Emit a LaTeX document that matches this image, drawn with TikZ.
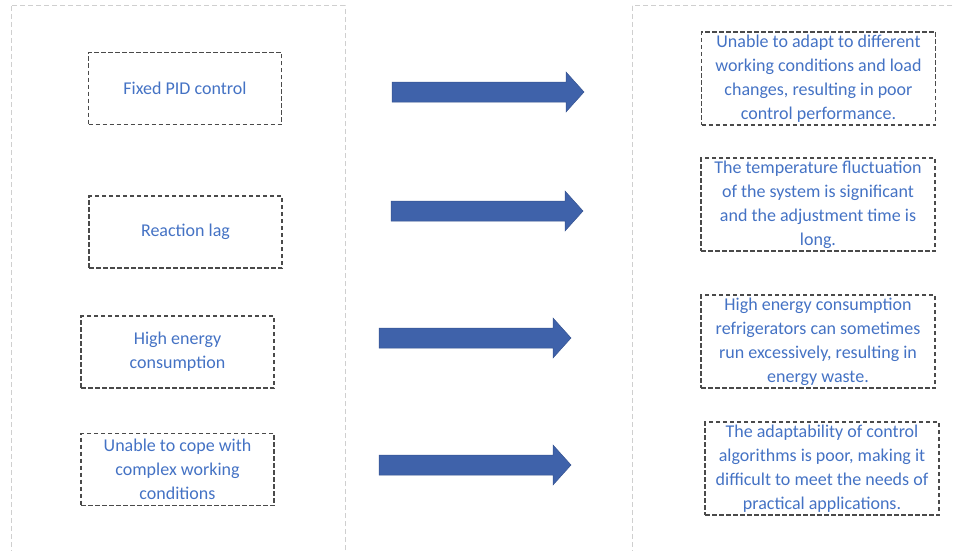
\documentclass[tikz,border=0pt]{standalone}
\usepackage{fontspec}
\setmainfont{Carlito}
\definecolor{textblue}{HTML}{4472C4}
\definecolor{arrowblue}{HTML}{3F62AA}
\definecolor{panelgray}{HTML}{CFCFCF}
\definecolor{boxgray}{HTML}{4A4A4A}
\begin{document}
\begin{tikzpicture}[x=1pt, y=-1pt,
	panel/.style={draw=panelgray, line width=1pt, dash pattern=on 5pt off 3pt},
	cause/.style={
		% The shape:
		rectangle,
		% The size:
		minimum width=193pt, minimum height=72pt, inner sep=0pt,
		% The border
		draw=boxgray, line width=1.1pt, dash pattern=on 4.5pt off 2.5pt,
		% The text
		text=textblue, align=center, font=\fontsize{18}{24}\selectfont},
	effect/.style={cause, minimum width=234pt, minimum height=93pt},
	fat/.style={fill=arrowblue, draw=arrowblue!85!black, line width=.5pt}]
    \useasboundingbox (0,0) rectangle (953,551);
    % the two columns
    \draw [panel] (11,6) rectangle (345,575);
    \draw [panel] (632,6) rectangle (975,575);
    % causes
    \node [cause] (pid) at (185,88.5) {Fixed PID control};
    \node [cause] (lag) at (185.5,232) {Reaction lag};
    \node [cause] (energy) at (177.5,352) {High energy\\consumption};
    \node [cause] (cope) at (177.5,469.5) {Unable to cope with\\complex working\\conditions};
    % effects
    \node [effect] (adapt) at (818.5,78.5) {Unable to adapt to different\\working conditions and load\\changes, resulting in poor\\control performance.};
    \node [effect] (fluct) at (818,204.5) {The temperature fluctuation\\of the system is significant\\and the adjustment time is\\long.};
    \node [effect] (waste) at (818,341.5) {High energy consumption\\refrigerators can sometimes\\run excessively, resulting in\\energy waste.};
    \node [effect] (algo) at (822,468.5) {The adaptability of control\\algorithms is poor, making it\\difficult to meet the needs of\\practical applications.};
    % block arrows
    \coordinate (a1) at (392,92);
    \coordinate (a2) at (391,211);
    \coordinate (a3) at (379,338);
    \coordinate (a4) at (379,465);
    \fill [fat] (a1) -- ++(0,-10) -- ++(174,0) -- ++(0,-10) -- ++(18,20) -- ++(-18,20) -- ++(0,-10) -- ++(-174,0) -- cycle;
    \fill [fat] (a2) -- ++(0,-10) -- ++(174,0) -- ++(0,-10) -- ++(18,20) -- ++(-18,20) -- ++(0,-10) -- ++(-174,0) -- cycle;
    \fill [fat] (a3) -- ++(0,-10) -- ++(174,0) -- ++(0,-10) -- ++(18,20) -- ++(-18,20) -- ++(0,-10) -- ++(-174,0) -- cycle;
    \fill [fat] (a4) -- ++(0,-10) -- ++(174,0) -- ++(0,-10) -- ++(18,20) -- ++(-18,20) -- ++(0,-10) -- ++(-174,0) -- cycle;
\end{tikzpicture}
\end{document}
